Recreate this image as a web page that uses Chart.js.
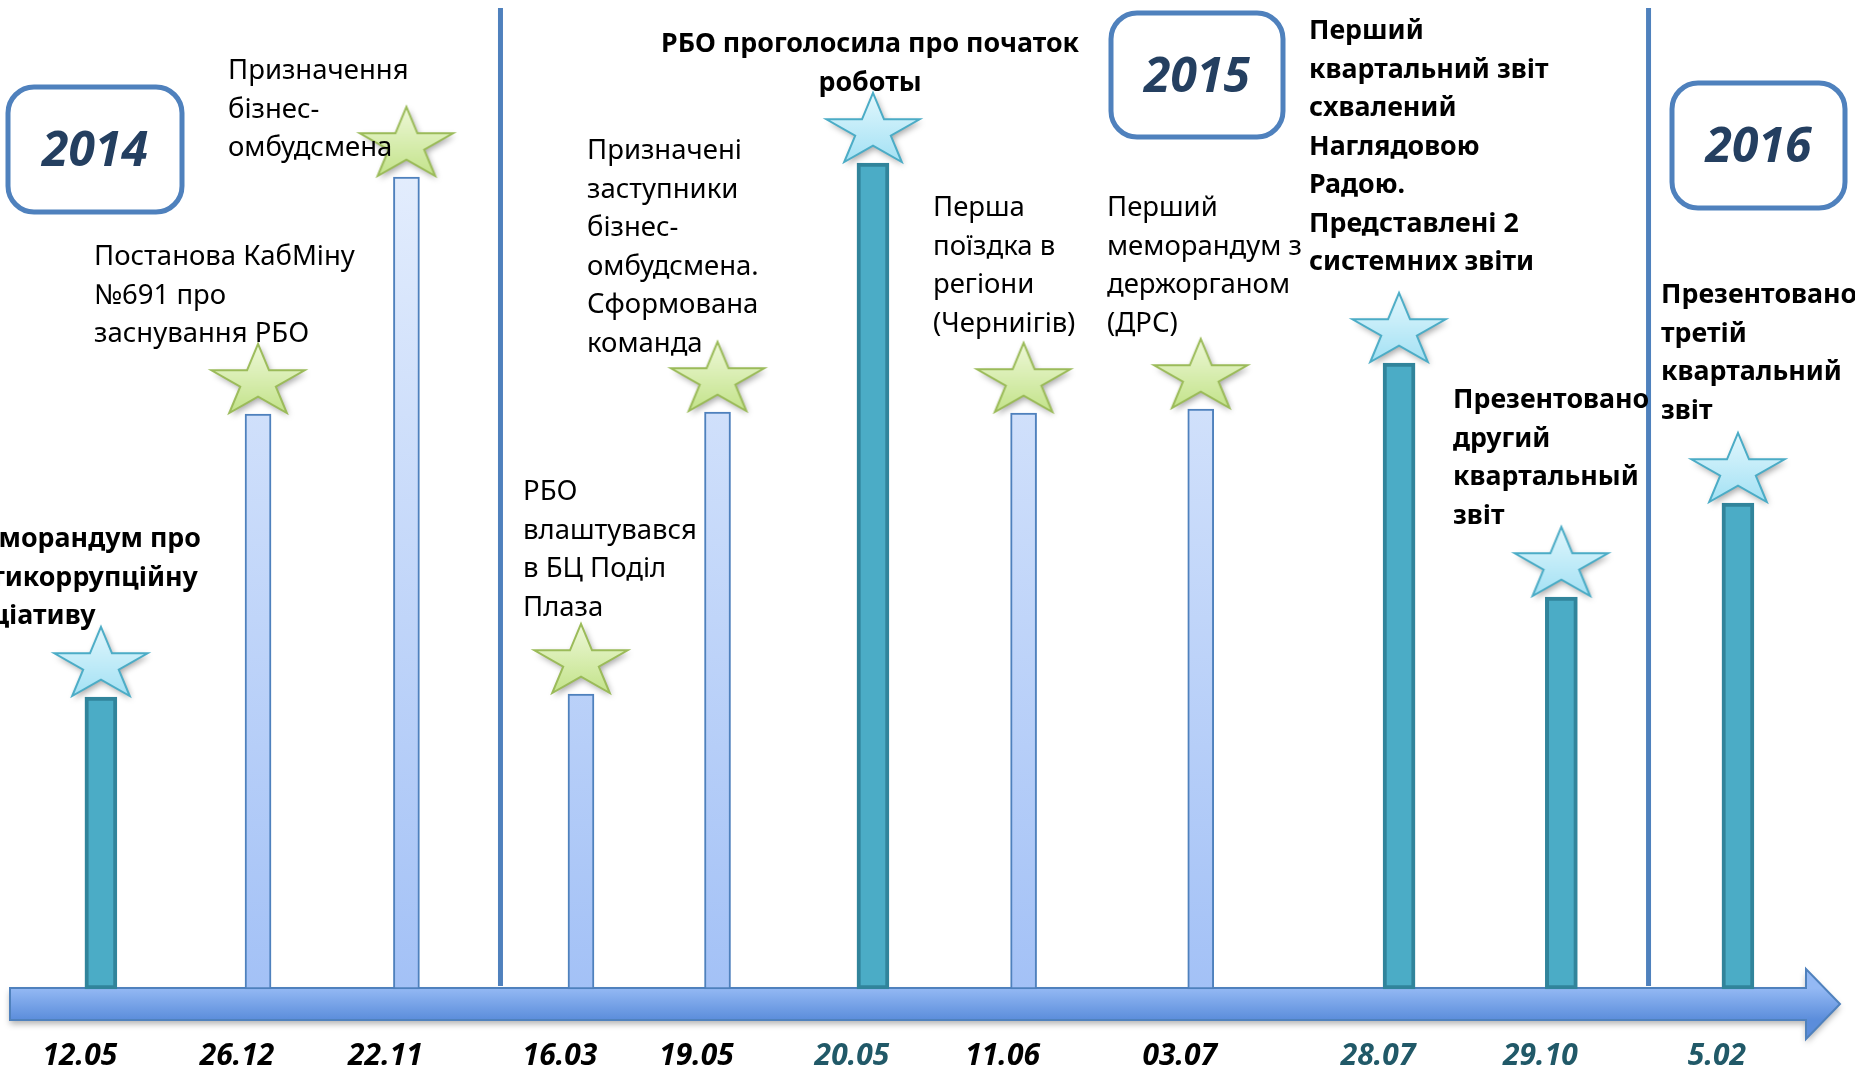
<!DOCTYPE html>
<html>
<head>
<meta charset="utf-8">
<script src="https://cdn.jsdelivr.net/npm/chart.js@4.4.1/dist/chart.umd.min.js"></script>
<style>
  html, body { margin: 0; padding: 0; background: #fff; }
  #wrap { width: 1855px; height: 1085px; position: relative; }
</style>
</head>
<body>
<div id="wrap"><canvas id="timeline"></canvas></div>
<script>
// dates under the arrow, left to right
const dates = ['12.05', '26.12', '22.11', '16.03', '19.05', '20.05', '11.06', '03.07', '28.07', '29.10', '5.02'];
// place of each event along the arrow (0..100)
const timelinePos = [5.44, 13.91, 21.91, 31.32, 38.68, 47.06, 55.18, 64.73, 75.42, 84.17, 93.69];
// key milestones (teal bars, blue stars) and other events (light bars, green stars)
const milestoneHeights = [2.92, null, null, null, null, 8.26, null, null, 6.26, 3.92, 4.86];
const eventHeights = [null, 5.75, 8.12, 2.95, 5.77, null, 5.76, 5.80, null, null, null];
// year dividers on the arrow
const yearBreaks = [26.98, 88.87];
const years = ['2014', '2015', '2016'];
const notes = [
  ['Меморандум про', 'антикоррупційну', 'ініціативу'],
  ['Постанова КабМіну', '№691 про', 'заснування РБО'],
  ['Призначення', 'бізнес-', 'омбудсмена'],
  ['РБО', 'влаштувався', 'в БЦ Поділ', 'Плаза'],
  ['Призначені', 'заступники', 'бізнес-', 'омбудсмена.', 'Сформована', 'команда'],
  ['РБО проголосила про початок', 'роботы'],
  ['Перша', 'поїздка в', 'регіони', '(Черниігів)'],
  ['Перший', 'меморандум з', 'держорганом', '(ДРС)'],
  ['Перший', 'квартальний звіт', 'схвалений', 'Наглядовою', 'Радою.', 'Представлені 2', 'системних звіти'],
  ['Презентовано', 'другий', 'квартальный', 'звіт'],
  ['Презентовано', 'третій', 'квартальний', 'звіт']
];

const dateColors = ['#000', '#000', '#000', '#000', '#000', '#215968', '#000', '#000', '#215968', '#215968', '#215968'];
const noteLayout = [
  { bold: true, right: 201, y: 547 },
  { x: 94, y: 265 },
  { x: 228, y: 79 },
  { x: 523, y: 500 },
  { x: 587, y: 159 },
  { bold: true, center: 870, y: 52 },
  { x: 933, y: 216 },
  { x: 1107, y: 216 },
  { bold: true, x: 1309, y: 39 },
  { bold: true, x: 1453, y: 408 },
  { bold: true, x: 1661, y: 303 }
];
const yearBoxes = [
  { x: 8, y: 87, w: 174, h: 125 },
  { x: 1111, y: 13, w: 172, h: 124 },
  { x: 1672, y: 83, w: 173, h: 125 }
];

function makeStar(top, bottom, stroke) {
  const c = document.createElement('canvas');
  c.width = 130;
  c.height = 170;
  const g = c.getContext('2d');
  const R = 49, r = R * 0.382, sy = 0.78;
  const cx = 65, cy = 85 - 1 - 0.809 * R * sy;
  g.beginPath();
  for (let k = 0; k < 10; k++) {
    const a = -Math.PI / 2 + k * Math.PI / 5;
    const rad = k % 2 ? r : R;
    const px = cx + rad * Math.cos(a), py = cy + rad * Math.sin(a) * sy;
    if (k) g.lineTo(px, py); else g.moveTo(px, py);
  }
  g.closePath();
  const grad = g.createLinearGradient(0, cy - R * sy, 0, cy + 0.809 * R * sy);
  grad.addColorStop(0, top);
  grad.addColorStop(1, bottom);
  g.fillStyle = grad;
  g.shadowColor = 'rgba(0,0,0,0.35)';
  g.shadowBlur = 6;
  g.shadowOffsetX = 2;
  g.shadowOffsetY = 3;
  g.fill();
  g.shadowColor = 'transparent';
  g.lineWidth = 2;
  g.strokeStyle = stroke;
  g.stroke();
  return c;
}

const blueStar = makeStar('#E2F7FD', '#A3E1F4', '#4BACC6');
const greenStar = makeStar('#EEF8D8', '#C3E38A', '#9BBB59');

const toPoints = (heights) => timelinePos.map((x, i) => ({ x: x, y: heights[i] }));

let lightGrad;
function lightBarFill(context) {
  const chart = context.chart;
  if (!chart.chartArea) return '#C2D6F8';
  if (!lightGrad) {
    lightGrad = chart.ctx.createLinearGradient(0, 170, 0, 990);
    lightGrad.addColorStop(0, '#E3EDFD');
    lightGrad.addColorStop(1, '#A3C1F6');
  }
  return lightGrad;
}

function roundRect(ctx, x, y, w, h, r) {
  ctx.beginPath();
  ctx.moveTo(x + r, y);
  ctx.arcTo(x + w, y, x + w, y + h, r);
  ctx.arcTo(x + w, y + h, x, y + h, r);
  ctx.arcTo(x, y + h, x, y, r);
  ctx.arcTo(x, y, x + w, y, r);
  ctx.closePath();
}

const timelineDecor = {
  id: 'timelineDecor',
  beforeDatasetsDraw(chart) {
    const ctx = chart.ctx;
    const xs = chart.scales.x, ys = chart.scales.y;
    const area = chart.chartArea;
    const y0 = ys.getPixelForValue(0);

    // year dividers
    ctx.save();
    ctx.strokeStyle = '#4F81BD';
    ctx.lineWidth = 5;
    yearBreaks.forEach(v => {
      const px = xs.getPixelForValue(v);
      ctx.beginPath();
      ctx.moveTo(px, 8);
      ctx.lineTo(px, y0 - 3);
      ctx.stroke();
    });
    ctx.restore();

    // the arrow
    const top = y0 - 1, bot = y0 + 31, mid = (top + bot) / 2;
    const left = area.left + 10, tip = area.right - 15, back = tip - 34;
    ctx.save();
    ctx.beginPath();
    ctx.moveTo(left, top);
    ctx.lineTo(back, top);
    ctx.lineTo(back, mid - 35);
    ctx.lineTo(tip, mid);
    ctx.lineTo(back, mid + 35);
    ctx.lineTo(back, bot);
    ctx.lineTo(left, bot);
    ctx.closePath();
    const g = ctx.createLinearGradient(0, top, 0, bot);
    g.addColorStop(0, '#94B9F4');
    g.addColorStop(1, '#5B8DDB');
    ctx.fillStyle = g;
    ctx.shadowColor = 'rgba(0,0,0,0.3)';
    ctx.shadowBlur = 6;
    ctx.shadowOffsetY = 4;
    ctx.fill();
    ctx.shadowColor = 'transparent';
    ctx.lineWidth = 2;
    ctx.strokeStyle = '#4F81BD';
    ctx.stroke();
    ctx.restore();
  },
  afterDraw(chart) {
    const ctx = chart.ctx;
    ctx.save();

    // year boxes
    yearBoxes.forEach((b, i) => {
      roundRect(ctx, b.x, b.y, b.w, b.h, 26);
      ctx.fillStyle = '#fff';
      ctx.fill();
      ctx.lineWidth = 5;
      ctx.strokeStyle = '#4F81BD';
      ctx.stroke();
      ctx.fillStyle = '#243F60';
      ctx.font = 'italic bold 48px "Noto Sans"';
      ctx.textAlign = 'center';
      ctx.textBaseline = 'middle';
      ctx.fillText(years[i], b.x + b.w / 2, b.y + b.h / 2 + 3);
    });

    // event notes
    ctx.fillStyle = '#000';
    ctx.textBaseline = 'alphabetic';
    notes.forEach((lines, i) => {
      const l = noteLayout[i];
      ctx.font = l.bold ? 'bold 26.8px "Noto Sans"' : '27.5px "Noto Sans"';
      let x = l.x, align = 'left';
      if (l.right !== undefined) x = l.right - ctx.measureText(lines[0]).width;
      if (l.center !== undefined) { x = l.center; align = 'center'; }
      ctx.textAlign = align;
      lines.forEach((line, k) => ctx.fillText(line, x, l.y + k * 38.5));
    });
    ctx.restore();
  }
};

new Chart(document.getElementById('timeline'), {
  type: 'bar',
  data: {
    datasets: [
      {
        type: 'scatter',
        data: toPoints(milestoneHeights),
        pointStyle: blueStar,
        pointRadius: 10,
        order: 0
      },
      {
        type: 'scatter',
        data: toPoints(eventHeights),
        pointStyle: greenStar,
        pointRadius: 10,
        order: 0
      },
      {
        data: toPoints(milestoneHeights),
        backgroundColor: '#4BACC6',
        borderColor: '#31849B',
        borderWidth: 4,
        borderSkipped: false,
        barThickness: 32,
        maxBarThickness: 32,
        grouped: false,
        order: 1
      },
      {
        data: toPoints(eventHeights),
        backgroundColor: lightBarFill,
        borderColor: '#4F81BD',
        borderWidth: 2,
        borderSkipped: false,
        barThickness: 26,
        maxBarThickness: 26,
        grouped: false,
        order: 2
      }
    ]
  },
  options: {
    responsive: true,
    maintainAspectRatio: false,
    animation: false,
    events: [],
    layout: { padding: 0, autoPadding: false },
    plugins: {
      legend: { display: false },
      tooltip: { enabled: false }
    },
    scales: {
      x: {
        type: 'linear',
        min: 0,
        max: 100,
        offset: false,
        grid: { display: false, drawTicks: false },
        border: { display: false },
        afterBuildTicks: axis => { axis.ticks = timelinePos.map(v => ({ value: v })); },
        ticks: {
          autoSkip: false,
          maxRotation: 0,
          padding: 11,
          labelOffset: -21,
          callback: (value, index) => dates[index],
          color: c => dateColors[c.index],
          font: { family: 'Noto Sans', size: 30, weight: 'bold', style: 'italic', lineHeight: 1.2 }
        }
      },
      y: {
        display: false,
        min: -0.38,
        max: 9.89
      }
    }
  },
  plugins: [timelineDecor]
});
</script>
</body>
</html>
